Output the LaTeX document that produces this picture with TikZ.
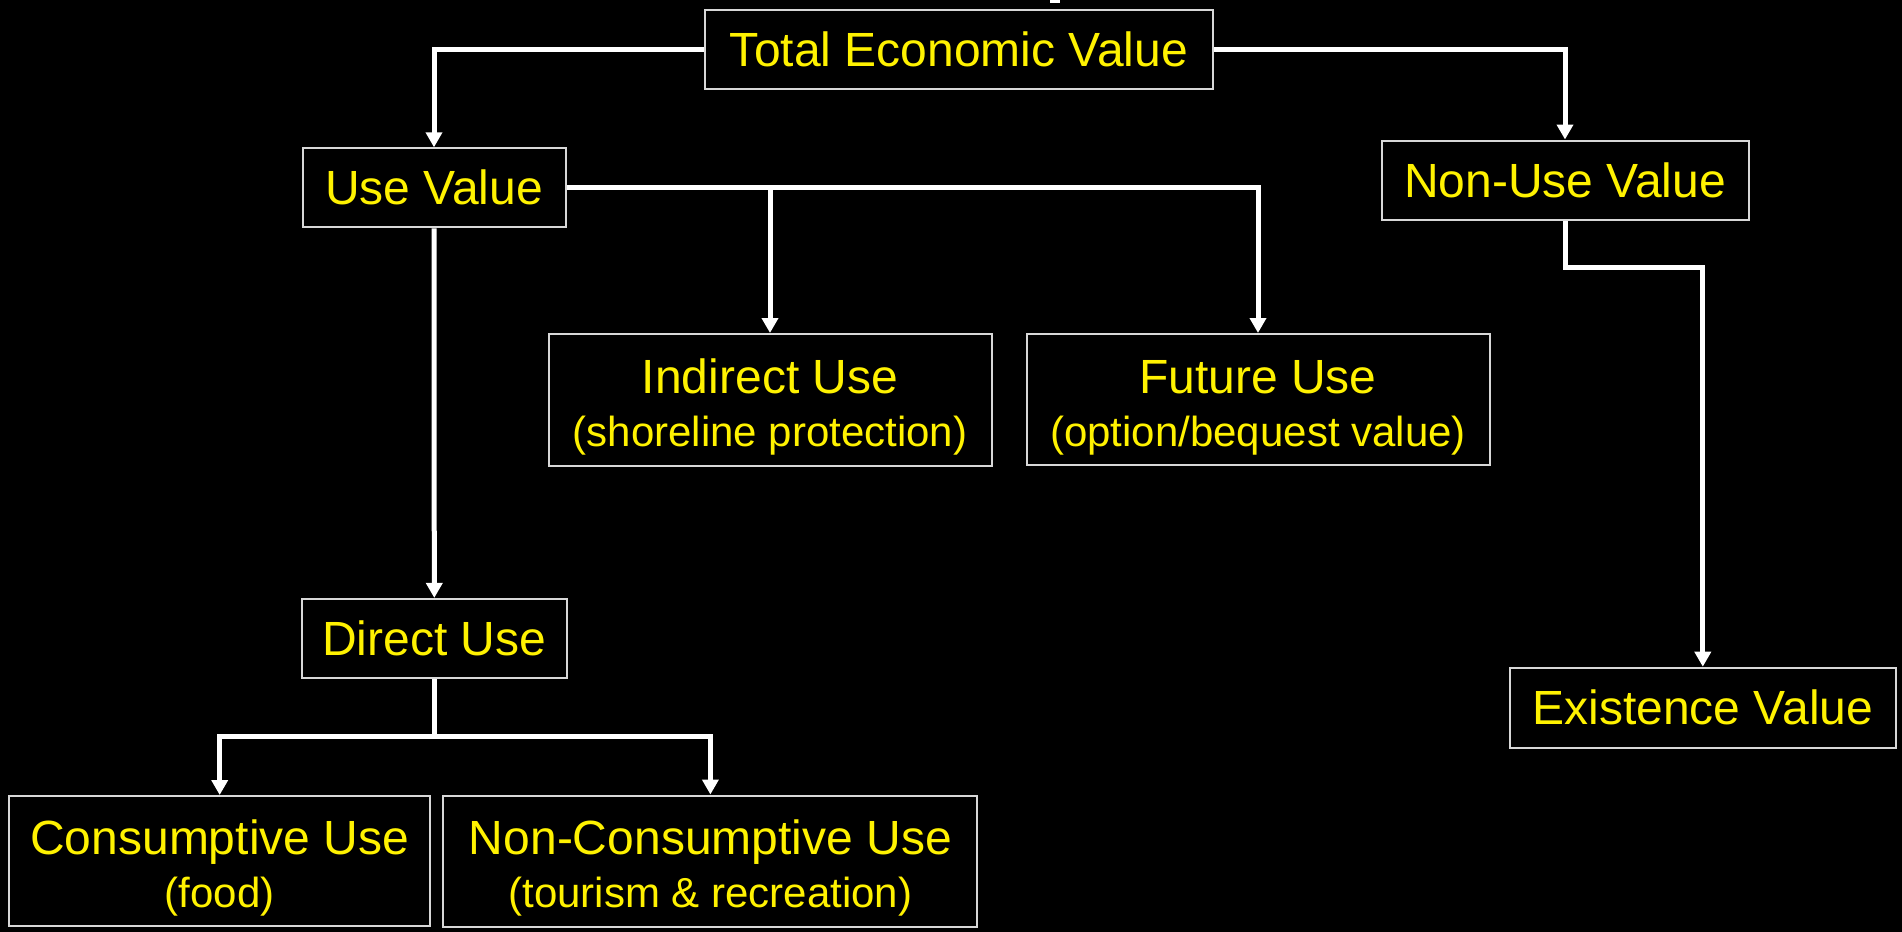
\documentclass[tikz,border=0pt]{standalone}
\usepackage{fontspec}
\setmainfont{Liberation Sans}
\usetikzlibrary{arrows.meta}
\definecolor{boxline}{RGB}{215,215,215}
\newcommand{\subline}[1]{{\fontsize{21}{26.5}\selectfont #1}}

\begin{document}
\begin{tikzpicture}[x=0.5pt,y=-0.5pt,
    valbox/.style={draw=boxline,line width=1pt,text=yellow,inner sep=0pt,
        align=center,font=\fontsize{24}{26.5}\selectfont},
    twoline/.style={text height=51.3pt,text depth=4.4pt},
    link/.style={white,line width=2.5pt,-{Triangle[length=7.5pt,width=8pt]}},
    bar/.style={white,line width=2.5pt}]
    \fill[black] (0,0) rectangle (1902,932);
    \useasboundingbox (0,0) rectangle (1902,932);
    \fill[white] (1050,0) rectangle (1060,2.5);

    \node[valbox,minimum width=254pt,minimum height=39.5pt] (tev) at (959,49) {Total Economic Value};
    \node[valbox,minimum width=131.5pt,minimum height=39.5pt] (use) at (434,187.8) {Use Value};
    \node[valbox,minimum width=183.5pt,minimum height=39.5pt] (nonuse) at (1565,180) {Non-Use Value};
    \node[valbox,twoline,minimum width=221.5pt,minimum height=66pt] (indirect) at (770,400) {Indirect Use\\\subline{(shoreline protection)}};
    \node[valbox,twoline,minimum width=231.5pt,minimum height=65.5pt] (future) at (1258,399.5) {Future Use\\\subline{(option/bequest value)}};
    \node[valbox,minimum width=132.5pt,minimum height=39.5pt] (direct) at (434.3,638.4) {Direct Use};
    \node[valbox,minimum width=193pt,minimum height=40pt] (exist) at (1702.8,707.7) {Existence Value};
    \node[valbox,twoline,minimum width=210.5pt,minimum height=65pt] (cons) at (219.7,861) {Consumptive Use\\\subline{(food)}};
    \node[valbox,twoline,minimum width=267pt,minimum height=65.5pt] (noncons) at (710.4,861) {Non-Consumptive Use\\\subline{(tourism \& recreation)}};

    \coordinate (dj) at (434.3,736.7);
    \coordinate (nb) at (1565,267.7);

    \draw[link] (tev.west) -| (use.north);
    \draw[link] (tev.east) -| (nonuse.north);
    \foreach \t in {indirect,future}{%
        \draw[link] (use.east) -| (\t.north);
    }
    \draw[link] (use.south) -- (direct.north);
    \draw[bar] (direct.south) -- (dj);
    \foreach \t in {cons,noncons}{%
        \draw[link] (dj) -| (\t.north);
    }
    \draw[link] (nonuse.south) -- (nb) -| (exist.north);
\end{tikzpicture}
\end{document}
